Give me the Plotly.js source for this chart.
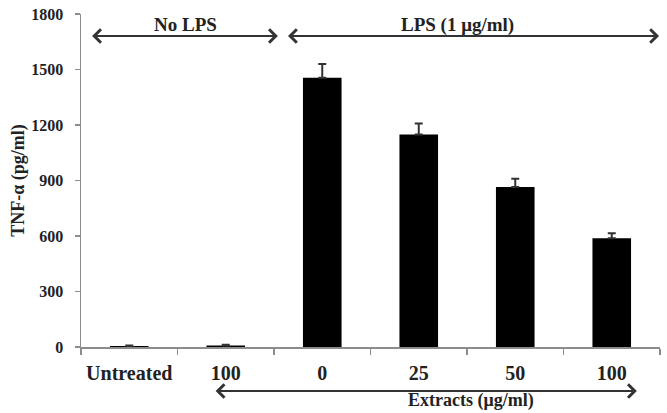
<!DOCTYPE html>
<html>
<head>
<meta charset="utf-8">
<script src="https://cdn.plot.ly/plotly-3.0.1.min.js"></script>
<style>
  html, body { margin: 0; padding: 0; background: #fff; }
  #chart { width: 667px; height: 413px; }
</style>
</head>
<body>
<div id="chart"></div>
<script>
// Treatment groups (unique keys) and the labels printed under each bar
const groupKeys = ['untreated', 'noLPS_100', 'lps_0', 'lps_25', 'lps_50', 'lps_100'];
const groupLabels = ['Untreated', '100', '0', '25', '50', '100'];

// TNF-α release (pg/ml) with upper and lower error extents
const tnfValues = [5, 8, 1455, 1148, 865, 588];
const tnfErrorsUp = [3, 4, 75, 60, 45, 27];
const tnfErrorsDown = [0, 0, 0, 0, 0, 0];

const serif = 'Liberation Serif, Times New Roman, serif';
const ink = '#222';
const axisGrey = '#8c8c8c';

const trace = {
  type: 'bar',
  x: groupKeys,
  y: tnfValues,
  width: 0.4,
  marker: { color: '#000', line: { width: 0 } },
  error_y: {
    type: 'data',
    symmetric: false,
    array: tnfErrorsUp,
    arrayminus: tnfErrorsDown,
    visible: true,
    color: '#333',
    thickness: 2,
    width: 4
  },
  hoverinfo: 'skip'
};

// double-headed bracket arrow spanning two category positions
function bracket(from, to, yPaper) {
  return {
    xref: 'x', yref: 'paper',
    axref: 'x', ayref: 'pixel',
    x: to, ax: from,
    y: yPaper, ay: 0,
    text: '',
    font: { size: 1 },
    showarrow: true,
    arrowside: 'end+start',
    arrowhead: 4,
    startarrowhead: 4,
    arrowsize: 1.3,
    startarrowsize: 1.3,
    arrowwidth: 2,
    arrowcolor: '#333',
    standoff: 0,
    startstandoff: 0,
    borderpad: 0
  };
}

function label(text, xPos, yPaper, yanchor, size) {
  return {
    xref: 'x', yref: 'paper',
    x: xPos, y: yPaper,
    text: text,
    showarrow: false,
    xanchor: 'center', yanchor: yanchor,
    font: { family: serif, size: size, color: ink, weight: 'bold' }
  };
}

const layout = {
  width: 667,
  height: 413,
  margin: { l: 81, r: 7, t: 14, b: 66 },
  paper_bgcolor: '#fff',
  plot_bgcolor: '#fff',
  showlegend: false,
  bargap: 0.6,
  xaxis: {
    type: 'category',
    tickmode: 'array',
    tickvals: groupKeys,
    ticktext: groupLabels,
    tickson: 'boundaries',
    range: [-0.5, 5.5],
    showline: true,
    linecolor: axisGrey,
    linewidth: 1.5,
    ticks: 'outside',
    ticklen: 6,
    tickwidth: 1.5,
    tickcolor: axisGrey,
    ticklabelstandoff: 7,
    tickfont: { family: serif, size: 20, color: ink, weight: 'bold' },
    showgrid: false,
    zeroline: false,
    fixedrange: true
  },
  yaxis: {
    range: [0, 1800],
    tick0: 0,
    dtick: 300,
    showline: true,
    linecolor: axisGrey,
    linewidth: 1.5,
    ticks: 'outside',
    ticklen: 5,
    tickwidth: 1.5,
    tickcolor: axisGrey,
    ticklabelstandoff: 8,
    tickfont: { family: serif, size: 16, color: ink, weight: 'bold' },
    showgrid: false,
    zeroline: false,
    fixedrange: true,
    title: {
      text: 'TNF-α (pg/ml)',
      standoff: 2,
      font: { family: serif, size: 18, color: ink, weight: 'bold' }
    }
  },
  annotations: [
    bracket(-0.39, 1.54, 0.934),
    bracket(1.64, 5.49, 0.934),
    bracket(0.89, 5.26, -0.132),
    label('No LPS', 0.58, 0.968, 'middle', 19),
    label('LPS (1 μg/ml)', 3.40, 0.968, 'middle', 19),
    label('Extracts (μg/ml)', 3.54, -0.123, 'top', 18)
  ]
};

Plotly.newPlot('chart', [trace], layout, { displayModeBar: false, staticPlot: true });
</script>
</body>
</html>
